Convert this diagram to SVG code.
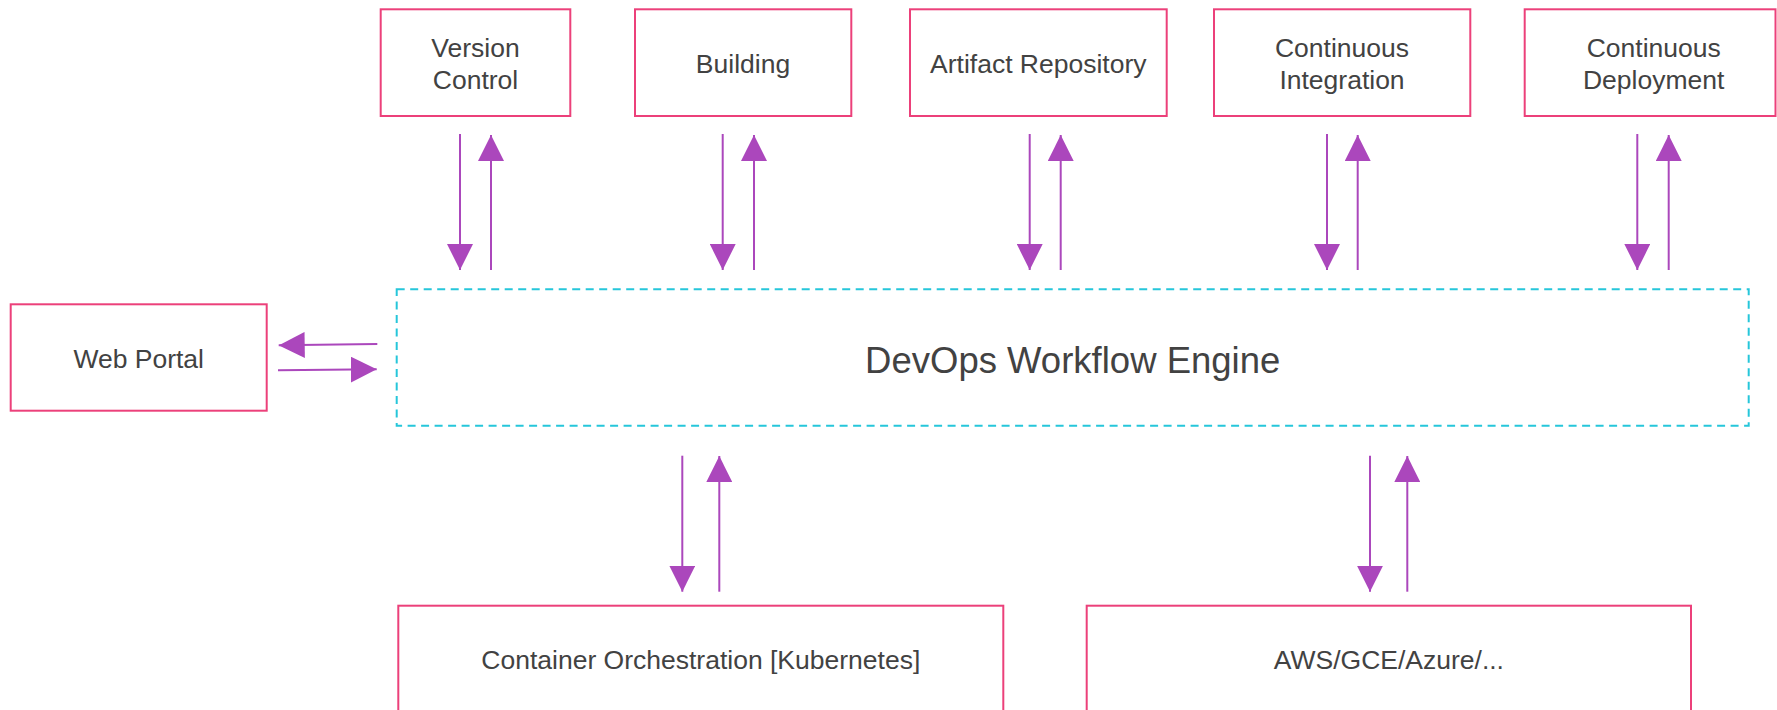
<svg xmlns="http://www.w3.org/2000/svg" width="1777" height="710" viewBox="0 0 1777 710">
  <style>
    .box { fill: #ffffff; stroke: #EC407A; stroke-width: 2; }
    .engine { fill: #ffffff; stroke: #26C6DA; stroke-width: 2; stroke-dasharray: 8 5.5; }
    .lbl { font-family: "Liberation Sans", Arial, sans-serif; font-size: 26.5px; fill: #424242; text-anchor: middle; }
    .big { font-family: "Liberation Sans", Arial, sans-serif; font-size: 36.5px; fill: #424242; text-anchor: middle; }
    .arr { stroke: #AB47BC; stroke-width: 2; fill: none; marker-end: url(#ah); }
  </style>
  <defs>
    <marker id="ah" markerUnits="userSpaceOnUse" markerWidth="26" markerHeight="26" refX="26" refY="13" orient="auto" viewBox="0 0 26 26">
      <path d="M0,0 L26,13 L0,26 z" fill="#AB47BC"/>
    </marker>
  </defs>
  <rect width="1777" height="710" fill="#ffffff"/>

  <g id="version-control">
    <rect class="box" x="380.7" y="9.3" width="189.6" height="106.7"/>
    <text class="lbl" x="475.5" y="57.3">Version</text>
    <text class="lbl" x="475.5" y="89.3">Control</text>
  </g>
  <g id="building">
    <rect class="box" x="635" y="9.3" width="216.3" height="106.7"/>
    <text class="lbl" x="743" y="72.7">Building</text>
  </g>
  <g id="artifact-repository">
    <rect class="box" x="910" y="9.3" width="256.7" height="106.7"/>
    <text class="lbl" x="1038.3" y="72.7">Artifact Repository</text>
  </g>
  <g id="continuous-integration">
    <rect class="box" x="1214" y="9.3" width="256.3" height="106.7"/>
    <text class="lbl" x="1342" y="57.3">Continuous</text>
    <text class="lbl" x="1342" y="89.3">Integration</text>
  </g>
  <g id="continuous-deployment">
    <rect class="box" x="1524.7" y="9.3" width="250.8" height="106.7"/>
    <text class="lbl" x="1653.7" y="57.3">Continuous</text>
    <text class="lbl" x="1653.7" y="89.3">Deployment</text>
  </g>
  <g id="web-portal">
    <rect class="box" x="10.7" y="304.3" width="256" height="106.4"/>
    <text class="lbl" x="138.7" y="367.7">Web Portal</text>
  </g>
  <g id="devops-workflow-engine">
    <rect class="engine" x="396.7" y="289.3" width="1352" height="136.4"/>
    <text class="big" x="1072.7" y="373">DevOps Workflow Engine</text>
  </g>
  <g id="container-orchestration">
    <rect class="box" x="398.3" y="605.7" width="605" height="120"/>
    <text class="lbl" x="700.8" y="669.3">Container Orchestration [Kubernetes]</text>
  </g>
  <g id="cloud-providers">
    <rect class="box" x="1086.7" y="605.7" width="604.3" height="120"/>
    <text class="lbl" x="1388.9" y="669.3">AWS/GCE/Azure/...</text>
  </g>

  <g id="connectors">
    <line class="arr" x1="460" y1="134" x2="460" y2="270"/>
    <line class="arr" x1="491" y1="270" x2="491" y2="135"/>
    <line class="arr" x1="722.7" y1="134" x2="722.7" y2="270"/>
    <line class="arr" x1="754" y1="270" x2="754" y2="135"/>
    <line class="arr" x1="1029.7" y1="134" x2="1029.7" y2="270"/>
    <line class="arr" x1="1060.7" y1="270" x2="1060.7" y2="135"/>
    <line class="arr" x1="1327" y1="134" x2="1327" y2="270"/>
    <line class="arr" x1="1357.7" y1="270" x2="1357.7" y2="135"/>
    <line class="arr" x1="1637.3" y1="134" x2="1637.3" y2="270"/>
    <line class="arr" x1="1668.7" y1="270" x2="1668.7" y2="135"/>

    <line class="arr" x1="377.3" y1="344" x2="278.7" y2="345.3"/>
    <line class="arr" x1="278" y1="370.3" x2="376.7" y2="369.3"/>

    <line class="arr" x1="682.3" y1="455.7" x2="682.3" y2="591.7"/>
    <line class="arr" x1="719.3" y1="591.7" x2="719.3" y2="456"/>
    <line class="arr" x1="1370" y1="455.7" x2="1370" y2="591.7"/>
    <line class="arr" x1="1407.3" y1="591.7" x2="1407.3" y2="456"/>
  </g>
</svg>
